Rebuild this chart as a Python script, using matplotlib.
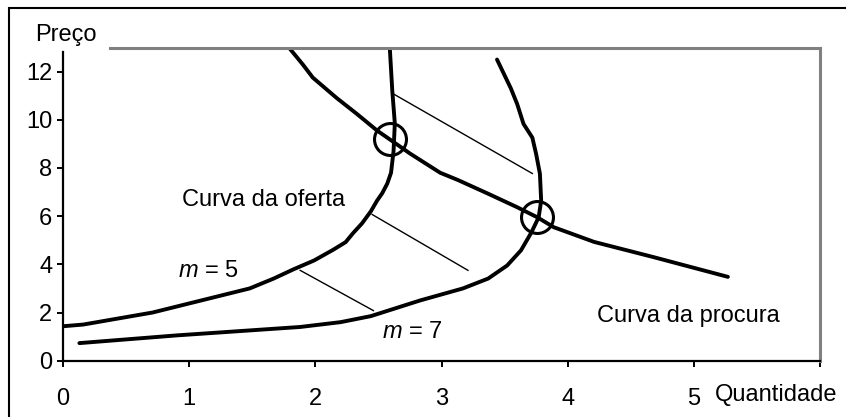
#! /usr/bin/env python3
# Oferta e procura com duas curvas de oferta (m = 5, m = 7)

import matplotlib.pyplot as plt
from matplotlib.patches import Rectangle

plt.rcParams['font.family'] = ['Liberation Sans', 'DejaVu Sans']
plt.rcParams['mathtext.fontset'] = 'custom'
plt.rcParams['mathtext.it'] = 'Liberation Sans:italic'
plt.rcParams['mathtext.rm'] = 'Liberation Sans'

# curva da oferta, m = 5
oferta5_q = [0.0, 0.16, 0.71, 1.48, 1.67, 1.83, 1.99, 2.14, 2.24, 2.30, 2.37, 2.44, 2.49, 2.53,
             2.57, 2.60, 2.62, 2.63, 2.61, 2.59]
oferta5_p = [1.43, 1.5, 2.0, 3.0, 3.41, 3.8, 4.16, 4.6, 4.92, 5.3, 5.7, 6.2, 6.65, 6.95,
             7.35, 7.8, 8.7, 9.85, 11.2, 13.0]

# curva da oferta, m = 7
oferta7_q = [0.13, 0.9, 1.88, 2.2, 2.44, 2.83, 3.17, 3.37, 3.52, 3.63, 3.71, 3.77, 3.79, 3.78,
             3.75, 3.72, 3.65, 3.60, 3.55, 3.44]
oferta7_p = [0.73, 1.05, 1.4, 1.6, 1.85, 2.5, 3.0, 3.41, 3.95, 4.58, 5.3, 5.95, 6.64, 7.76,
             8.58, 9.26, 9.83, 10.65, 11.3, 12.5]

# curva da procura
procura_q = [1.79, 1.90, 1.98, 2.17, 2.33, 2.49, 2.60, 2.75, 2.99, 3.13, 3.37, 3.60, 3.76, 3.89,
             4.21, 4.68, 5.27]
procura_p = [13.0, 12.3, 11.75, 10.9, 10.24, 9.55, 9.15, 8.6, 7.8, 7.5, 6.93, 6.37, 5.95, 5.54,
             4.93, 4.3, 3.48]

# segmentos finos entre as curvas
seg_q = [(2.62, 3.72), (2.45, 3.21), (1.88, 2.46)]
seg_p = [(11.07, 7.77), (6.07, 3.75), (3.75, 2.08)]

# equilibrios
equil_q = [2.59, 3.76]
equil_p = [9.22, 5.95]

xticks = [0, 1, 2, 3, 4, 5, 6]
xlabels = ['0', '1', '2', '3', '4', '5', '']
yticks = [0, 2, 4, 6, 8, 10, 12]

W, H = 846, 417
fs = 17
fig = plt.figure(figsize=(W / 100, H / 100), dpi=100)
ax = fig.add_axes([63 / W, (H - 360.7) / H, (820 - 63) / W, (360.7 - 47.5) / H])

# moldura exterior (so esquerda e topo visiveis)
fig.add_artist(Rectangle((9 / W, -0.5), 2, 1.5 - 8 / H, transform=fig.transFigure,
                         fill=False, ec='black', lw=1.5))

lw = 2.8
for q, p in [(oferta5_q, oferta5_p), (oferta7_q, oferta7_p), (procura_q, procura_p)]:
    ax.plot(q, p, color='black', lw=lw, solid_joinstyle='round', solid_capstyle='round')
for q, p in zip(seg_q, seg_p):
    ax.plot(q, p, color='black', lw=1.0)
ax.plot(equil_q, equil_p, 'o', ms=23, mfc='none', mec='black', mew=2.2, ls='none')

ax.set_xlim(0, 6)
ax.set_ylim(0, 13)
ax.set_xticks(xticks)
ax.set_xticklabels(xlabels)
ax.set_yticks(yticks)
ax.tick_params(axis='both', labelsize=fs, length=4.3, width=1.4, direction='out')
ax.tick_params(axis='x', pad=15)
ax.tick_params(axis='y', pad=3.5)

for s in ['left', 'bottom']:
    ax.spines[s].set_linewidth(1.6)
ax.spines['left'].set_bounds(0, 12.8)
for s in ['top', 'right']:
    ax.spines[s].set_color('#808080')
    ax.spines[s].set_linewidth(2.2)
ax.spines['top'].set_bounds(0.37, 6)

ax.text(0.944, 6.41, 'Curva da oferta', fontsize=fs, va='baseline')
ax.text(0.913, 3.47, '$m$ = 5', fontsize=fs, va='baseline')
ax.text(2.53, 0.94, '$m$ = 7', fontsize=fs, va='baseline')
ax.text(4.23, 1.6, 'Curva da procura', fontsize=fs, va='baseline')

fig.text(35 / W, 1 - 41 / H, 'Preço', fontsize=fs, va='baseline')
fig.text(715 / W, 1 - 401 / H, 'Quantidade', fontsize=fs, va='baseline')

fig.savefig('out.png', dpi=100)
